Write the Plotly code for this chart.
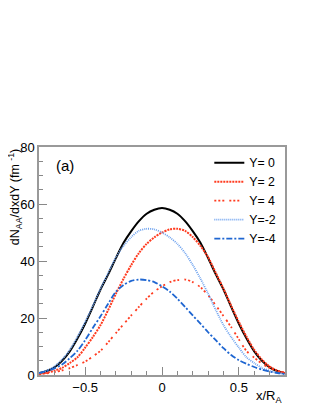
import plotly.graph_objects as go

x_vals = [-0.80, -0.75, -0.70, -0.65, -0.60, -0.55, -0.50, -0.45, -0.40, -0.35, -0.30,
          -0.25, -0.20, -0.15, -0.10, -0.05, 0.00, 0.05, 0.10, 0.15, 0.20, 0.25,
          0.30, 0.35, 0.40, 0.45, 0.50, 0.55, 0.60, 0.65, 0.70, 0.75, 0.80]

y_p0 = [0.6, 1.4, 2.7, 5.0, 8.3, 12.8, 18.0, 23.9, 30.0, 35.3, 41.0,
        46.4, 50.5, 54.0, 56.6, 58.0, 58.6, 58.0, 56.6, 54.0, 50.5, 46.4,
        41.0, 35.3, 30.0, 23.9, 18.0, 12.8, 8.3, 5.0, 2.7, 1.4, 0.6]

y_p2 = [0.3, 0.8, 1.5, 2.5, 4.2, 6.2, 9.6, 13.3, 17.5, 22.8, 28.5,
        33.8, 38.6, 42.8, 46.0, 48.3, 50.0, 51.1, 51.3, 50.6, 48.4, 45.3,
        41.3, 35.8, 30.3, 24.3, 18.6, 13.4, 8.8, 5.4, 3.0, 1.5, 0.6]

y_p4 = [0.3, 0.6, 1.0, 1.6, 2.4, 3.5, 4.7, 6.5, 8.5, 11.5, 14.7,
        17.8, 20.9, 23.9, 26.8, 29.3, 31.1, 32.6, 33.3, 33.5, 32.6, 30.8,
        28.0, 24.4, 20.7, 16.8, 12.5, 8.4, 6.1, 4.0, 2.5, 1.5, 0.8]

y_m2 = [0.6, 1.5, 3.0, 5.4, 8.8, 13.4, 18.6, 24.3, 30.3, 35.8, 41.3,
        45.3, 48.4, 50.6, 51.3, 51.1, 50.0, 48.3, 46.0, 42.8, 38.6, 33.8,
        28.5, 22.8, 17.5, 13.3, 9.6, 6.2, 4.2, 2.5, 1.5, 0.8, 0.3]

y_m4 = [0.7, 1.4, 2.3, 3.7, 5.9, 8.5, 12.2, 16.5, 20.6, 25.0, 29.2,
        31.6, 33.0, 33.5, 33.3, 32.6, 31.1, 29.3, 26.8, 23.9, 20.9, 18.0,
        15.0, 12.2, 9.4, 7.0, 5.2, 3.9, 2.8, 1.9, 1.2, 0.7, 0.4]

names = ["Y= 0", "Y= 2", "Y= 4", "Y=-2", "Y=-4"]
series = [y_p0, y_p2, y_p4, y_m2, y_m4]
colors = ["#000000", "#ff3b1f", "#ff3b1f", "#6fa3ef", "#1f66d1"]
dashes = ["solid", "2px,1px", "2px,2px,2px,2px,2px,5px", "1px,1px", "6px,2px,2px,2px"]
widths = [2, 2, 1.8, 1.8, 1.8]

x_ticks = [-0.5, 0, 0.5]
x_ticklabels = ["\u22120.5", "0", "0.5"]
y_ticks = [0, 20, 40, 60, 80]

fig = go.Figure()
for name, ys, c, d, w in zip(names, series, colors, dashes, widths):
    fig.add_trace(go.Scatter(x=x_vals, y=ys, mode="lines", name=name,
                             line=dict(color=c, dash=d, width=w, shape="spline", smoothing=0.8)))

font_family = "Liberation Sans, Arial, sans-serif"
fig.update_layout(
    width=307, height=399,
    margin=dict(l=27, r=30, t=139, b=32),
    paper_bgcolor="white", plot_bgcolor="white",
    font=dict(family=font_family, size=13, color="black"),
    showlegend=True,
    legend=dict(x=0.985, y=0.995, xanchor="right", yanchor="top",
                bgcolor="rgba(0,0,0,0)", borderwidth=0,
                font=dict(size=12.3), itemwidth=30, tracegroupgap=0),
)
fig.update_xaxes(range=[-0.8, 0.8], tickvals=x_ticks, ticktext=x_ticklabels,
                 ticks="inside", ticklen=8, tickwidth=1, tickcolor="#888888",
                 minor=dict(dtick=0.1, ticks="inside", ticklen=4, tickcolor="#888888", showgrid=False),
                 showline=True, linecolor="#999999", linewidth=1.5, mirror=True,
                 showgrid=False, zeroline=False, tickfont=dict(size=13))
fig.update_yaxes(range=[0, 80], tickvals=y_ticks,
                 ticks="inside", ticklen=8, tickwidth=1, tickcolor="#888888",
                 minor=dict(dtick=5, ticks="inside", ticklen=4, tickcolor="#888888", showgrid=False),
                 showline=True, linecolor="#999999", linewidth=1.5, mirror=True,
                 showgrid=False, zeroline=False, tickfont=dict(size=13))

fig.add_annotation(text="dN<sub>AA</sub>/dxdY (fm <sup>-1</sup>)", textangle=-90,
                   xref="paper", yref="paper", x=-0.097, y=1.0, xanchor="center", yanchor="top",
                   showarrow=False, font=dict(size=12.5))
fig.add_annotation(text="x/R<sub>A</sub>", xref="paper", yref="paper",
                   x=1.0, y=-0.05, xanchor="right", yanchor="top",
                   showarrow=False, font=dict(size=13))
fig.add_annotation(text="(a)", xref="paper", yref="paper",
                   x=0.06, y=0.92, xanchor="left", yanchor="middle",
                   showarrow=False, font=dict(size=15))

fig.write_html("out.html")
